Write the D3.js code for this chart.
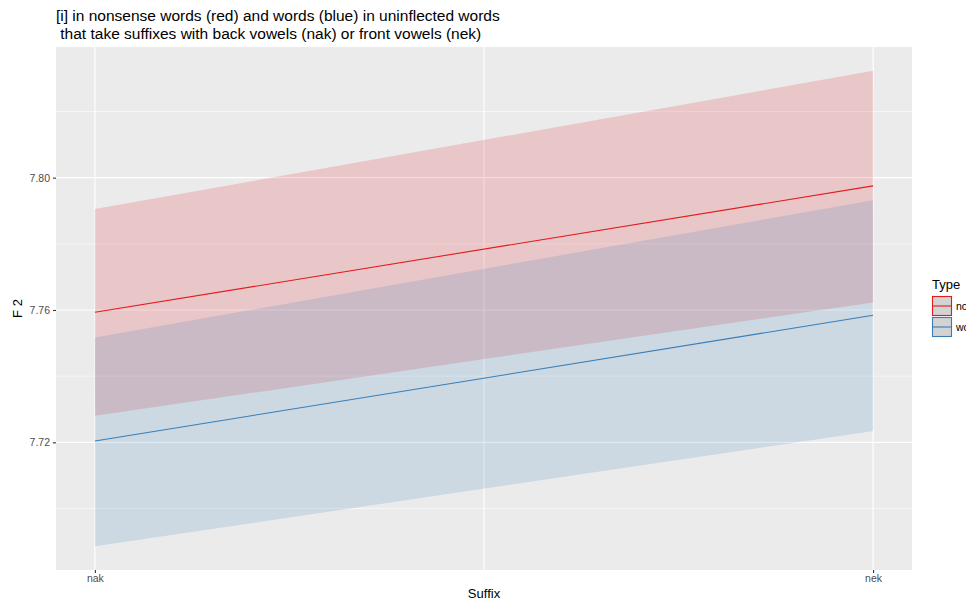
<!DOCTYPE html>
<meta charset="utf-8">
<style>
body { margin: 0; background: #fff; }
svg { font-family: "Liberation Sans", Arial, sans-serif; display: block; }
.axis .domain { display: none; }
</style>
<body>
<svg width="966" height="604"></svg>
<script src="https://d3js.org/d3.v7.min.js"></script>
<script>
// fitted F2 by suffix type, with confidence band
var suffixes = ["nak", "nek"];
var types = ["nonsense", "word"];
var fit = {
  nonsense: [7.7593, 7.7975],
  word:     [7.7204, 7.7584]
};
var lower = {
  nonsense: [7.7280, 7.7623],
  word:     [7.6886, 7.7234]
};
var upper = {
  nonsense: [7.7905, 7.8323],
  word:     [7.7517, 7.7932]
};
var yTicks = [7.72, 7.76, 7.80];
var yMinor = [7.70, 7.74, 7.78, 7.82];
var colours = ["#E41A1C", "#377EB8"];

var svg = d3.select("svg"),
    margin = {top: 47, right: 54, bottom: 34, left: 56},
    width = +svg.attr("width") - margin.left - margin.right,
    height = +svg.attr("height") - margin.top - margin.bottom,
    g = svg.append("g").attr("transform", "translate(" + margin.left + "," + margin.top + ")");

// x is numeric 0..1 with ggplot's 5% padding
var x = d3.scaleLinear().domain([-0.05, 1.05]).range([0, width]);

var allVals = [].concat(lower.nonsense, lower.word, upper.nonsense, upper.word);
var ymin = d3.min(allVals), ymax = d3.max(allVals), pad = (ymax - ymin) * 0.05;
var y = d3.scaleLinear().domain([ymin - pad, ymax + pad]).range([height, 0]);

var z = d3.scaleOrdinal().domain(types).range(colours);

g.append("rect")
    .attr("width", width)
    .attr("height", height)
    .attr("fill", "#EBEBEB");

g.selectAll(".minor")
  .data(yMinor)
  .enter().append("line")
    .attr("x1", 0).attr("x2", width)
    .attr("y1", function(d) { return y(d); })
    .attr("y2", function(d) { return y(d); })
    .attr("stroke", "#fff")
    .attr("stroke-width", 0.55);

g.selectAll(".major")
  .data(yTicks)
  .enter().append("line")
    .attr("x1", 0).attr("x2", width)
    .attr("y1", function(d) { return y(d); })
    .attr("y2", function(d) { return y(d); })
    .attr("stroke", "#fff")
    .attr("stroke-width", 1.1);

g.selectAll(".vmajor")
  .data([0, 0.5, 1])
  .enter().append("line")
    .attr("y1", 0).attr("y2", height)
    .attr("x1", function(d) { return x(d); })
    .attr("x2", function(d) { return x(d); })
    .attr("stroke", "#fff")
    .attr("stroke-width", 1.1);

var band = d3.area()
    .x(function(d, i) { return x(i); })
    .y0(function(d) { return y(d[0]); })
    .y1(function(d) { return y(d[1]); });

var line = d3.line()
    .x(function(d, i) { return x(i); })
    .y(function(d) { return y(d); });

types.forEach(function(t) {
  var pts = suffixes.map(function(s, i) { return [lower[t][i], upper[t][i]]; });
  g.append("path")
      .datum(pts)
      .attr("d", band)
      .attr("fill", z(t))
      .attr("fill-opacity", 0.17);
});

types.forEach(function(t) {
  g.append("path")
      .datum(fit[t])
      .attr("d", line)
      .attr("fill", "none")
      .attr("stroke", z(t))
      .attr("stroke-width", 1.1);
});

// axes
g.append("g")
    .attr("class", "axis")
    .attr("transform", "translate(0," + height + ")")
    .call(d3.axisBottom(x).tickValues([0, 1]).tickFormat(function(d) { return suffixes[d]; })
      .tickSizeInner(3).tickSizeOuter(0).tickPadding(2));

g.append("g")
    .attr("class", "axis")
    .call(d3.axisLeft(y).tickValues(yTicks).tickFormat(d3.format(".2f"))
      .tickSizeInner(3).tickSizeOuter(0).tickPadding(3));

svg.selectAll(".axis .tick line").attr("stroke", "#333").attr("stroke-width", 1.1);
svg.selectAll(".axis .tick text")
    .attr("fill", "#4D4D4D")
    .style("font-size", "10.5px")
    .style("font-family", "Liberation Sans, Arial, sans-serif");

svg.append("text")
    .attr("x", margin.left + width / 2)
    .attr("y", 598)
    .attr("text-anchor", "middle")
    .style("font-size", "13px")
    .text("Suffix");

svg.append("text")
    .attr("transform", "translate(22," + (margin.top + height / 2) + ") rotate(-90)")
    .attr("text-anchor", "middle")
    .style("font-size", "13px")
    .text("F 2");

// title
var title = svg.append("text")
    .attr("x", margin.left)
    .attr("y", 21)
    .style("font-size", "15.5px");
title.append("tspan").attr("x", margin.left).text("[i] in nonsense words (red) and words (blue) in uninflected words");
title.append("tspan").attr("x", margin.left).attr("dy", 17.5).text("\u00a0that take suffixes with back vowels (nak) or front vowels (nek)");

// legend (labels run off the right edge, as in the original)
var legend = svg.append("g").attr("transform", "translate(932,279)");
legend.append("text")
    .attr("y", 10)
    .style("font-size", "13px")
    .text("Type");

var keys = legend.selectAll(".key")
  .data(types)
  .enter().append("g")
    .attr("transform", function(d, i) { return "translate(0," + (17 + i * 21) + ")"; });

keys.append("rect")
    .attr("width", 20).attr("height", 20)
    .attr("fill", "#F2F2F2");
keys.append("rect")
    .attr("x", 0.5).attr("y", 0.5)
    .attr("width", 19).attr("height", 19)
    .attr("fill", "#CFCFCF")
    .attr("fill-opacity", 0.9)
    .attr("stroke", z)
    .attr("stroke-width", 1.1);
keys.append("line")
    .attr("x1", 1).attr("x2", 19)
    .attr("y1", 10).attr("y2", 10)
    .attr("stroke", z)
    .attr("stroke-width", 1.1);
keys.append("text")
    .attr("x", 24)
    .attr("y", 10)
    .attr("dy", "0.35em")
    .style("font-size", "10.5px")
    .text(function(d) { return d; });
</script>
